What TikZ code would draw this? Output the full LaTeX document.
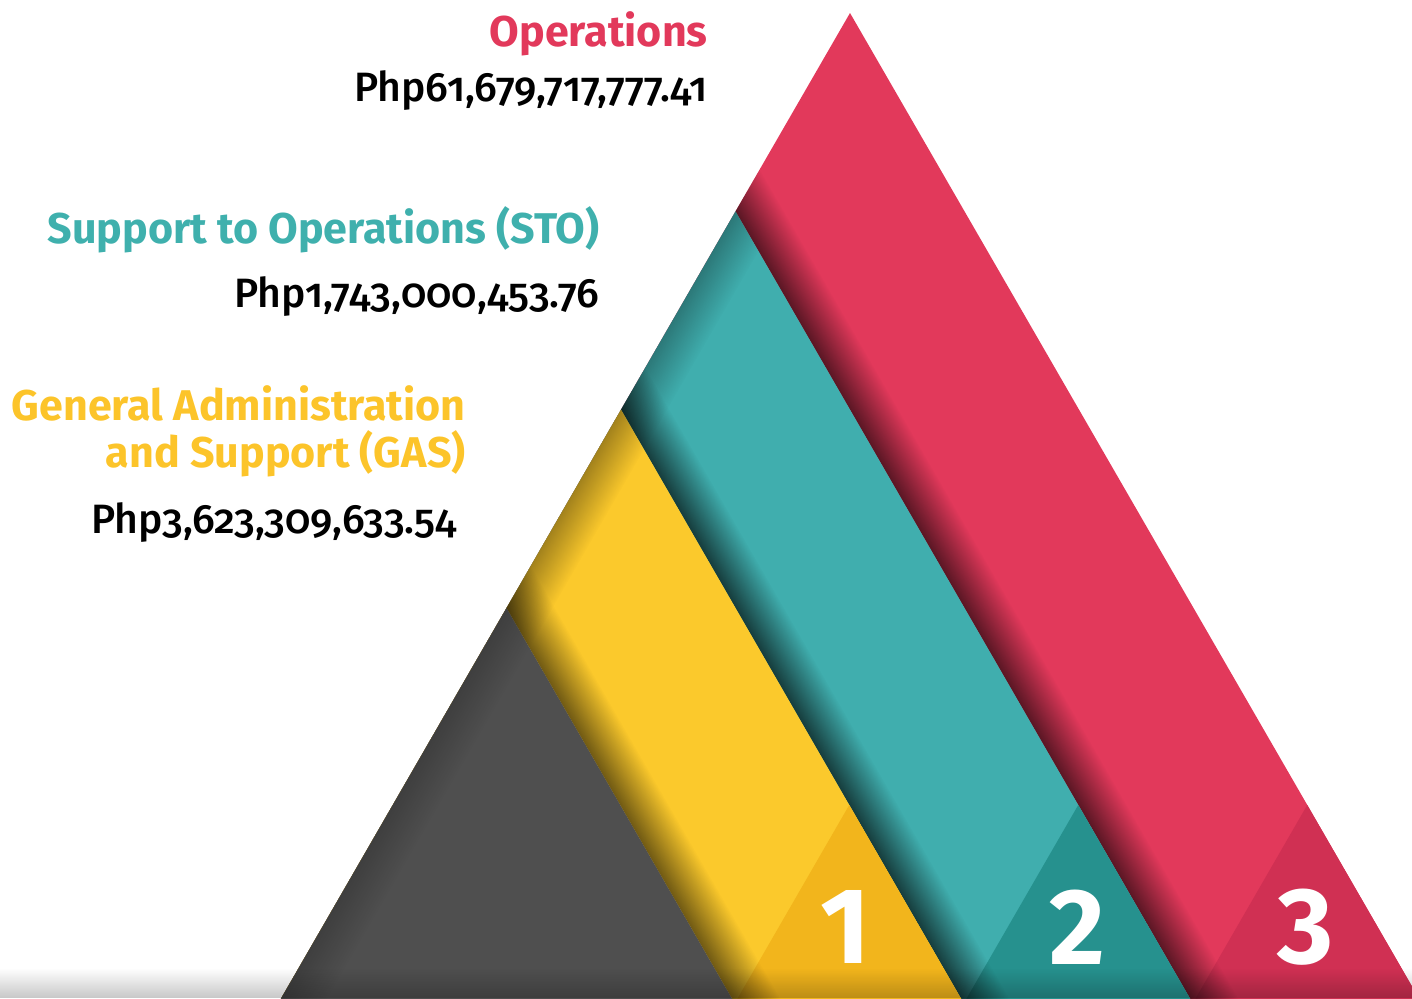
\documentclass[tikz,border=0pt]{standalone}
\usepackage{fontspec}
\setmainfont{Fira Sans}
\newfontfamily\amountfont{Fira Sans Medium}[Numbers={OldStyle,Proportional}]
\usetikzlibrary{calc,fadings}

\definecolor{opsred}{HTML}{E2395B}
\definecolor{opsreddark}{HTML}{D03053}
\definecolor{stoteal}{HTML}{40AEAE}
\definecolor{stotealdark}{HTML}{26918E}
\definecolor{gasyellow}{HTML}{FBC92C}
\definecolor{gasyellowdark}{HTML}{F2B51C}
\definecolor{basegray}{HTML}{4F4F4F}
\definecolor{titleteal}{HTML}{3FB0AD}
\definecolor{titleyellow}{HTML}{FCC42A}

\tikzset{
  title/.style={anchor=base east, inner sep=0pt, font=\bfseries\fontsize{21.5}{21.5}\selectfont},
  amount/.style={anchor=base east, inner sep=0pt, font=\amountfont\fontsize{20.5}{20.5}\selectfont},
  digit/.style={text=white, font=\bfseries\fontsize{54}{54}\selectfont},
  castshade/.style={black, opacity=#1, path fading=east},
  castshade/.default=0.6,
  alongright/.style={transform canvas={shift={(#1)},rotate=30}},
  alongleft/.style={transform canvas={shift={(#1)},rotate=-30}}
}

\begin{document}
\begin{tikzpicture}[x=0.5pt,y=-0.5pt]
  \useasboundingbox (0,0) rectangle (1412,998);
  \clip (0,0) rectangle (1412,998);

  % apexes of the four stacked triangles
  \coordinate (opsTop) at (850,13);
  \coordinate (stoTop) at ($(opsTop)+(120:229)$);
  \coordinate (gasTop) at ($(opsTop)+(120:458)$);
  \coordinate (baseTop) at ($(opsTop)+(120:687)$);
  % apexes of the numbered corners
  \coordinate (opsNum) at ($(opsTop)+(60:914.5)$);
  \coordinate (stoNum) at ($(stoTop)+(60:685.5)$);
  \coordinate (gasNum) at ($(gasTop)+(60:456.5)$);

  % red (operations)
  \fill[opsred] (opsTop) -- ++(120:1160) -- ++(0:1160) -- cycle;
  \fill[opsreddark] (opsNum) -- ++(120:240) -- ++(0:240) -- cycle;
  \begin{scope}
    \clip (opsTop) -- ++(120:1160) -- ++(0:1160) -- cycle;
    \fill[castshade, alongright=stoTop] (0pt,14pt) rectangle (21pt,-600pt);
  \end{scope}

  % teal (support to operations)
  \fill[stoteal] (stoTop) -- ++(120:931) -- ++(0:931) -- cycle;
  \fill[stotealdark] (stoNum) -- ++(120:240) -- ++(0:240) -- cycle;
  \begin{scope}
    \clip (stoTop) -- ++(120:931) -- ++(0:931) -- cycle;
    \fill[castshade=0.3, alongleft=stoTop] (0pt,0pt) rectangle (20pt,-600pt);
    \fill[castshade=0.65, alongright=gasTop] (0pt,14pt) rectangle (21pt,-600pt);
  \end{scope}

  % yellow (general administration and support)
  \fill[gasyellow] (gasTop) -- ++(120:702) -- ++(0:702) -- cycle;
  \fill[gasyellowdark] (gasNum) -- ++(120:240) -- ++(0:240) -- cycle;
  \begin{scope}
    \clip (gasTop) -- ++(120:702) -- ++(0:702) -- cycle;
    \fill[castshade=0.35, alongleft=gasTop] (0pt,0pt) rectangle (20pt,-600pt);
    \fill[castshade=0.55, alongright=baseTop] (0pt,14pt) rectangle (21pt,-600pt);
  \end{scope}

  % gray base
  \fill[basegray] (baseTop) -- ++(120:473) -- ++(0:473) -- cycle;
  \begin{scope}
    \clip (baseTop) -- ++(120:473) -- ++(0:473) -- cycle;
    \fill[castshade=0.2, alongleft=baseTop] (0pt,0pt) rectangle (20pt,-600pt);
  \end{scope}

  % numbers
  \node[digit] (gasDigit) at (846,927) {1};
  \node[digit] (stoDigit) at (1077,927) {2};
  \node[digit] (opsDigit) at (1306,927) {3};

  % floor fade
  \fill[black, opacity=0.22, path fading=north] (0,968) rectangle (1412,998);

  % labels
  \node[title, text=opsred] (opsTitle) at (708,46) {Operations};
  \node[amount] (opsAmount) at (708,101) {Php61,679,717,777.41};
  \node[title, text=titleteal] (stoTitle) at (600,243) {Support to Operations (STO)};
  \node[amount] (stoAmount) at (600,307) {Php1,743,000,453.76};
  \node[title, text=titleyellow] (gasTitle) at (466,420) {General Administration};
  \node[title, text=titleyellow] (gasTitleB) at (466,467) {and Support (GAS)};
  \node[amount] (gasAmount) at (457,533) {Php3,623,309,633.54};
\end{tikzpicture}
\end{document}
